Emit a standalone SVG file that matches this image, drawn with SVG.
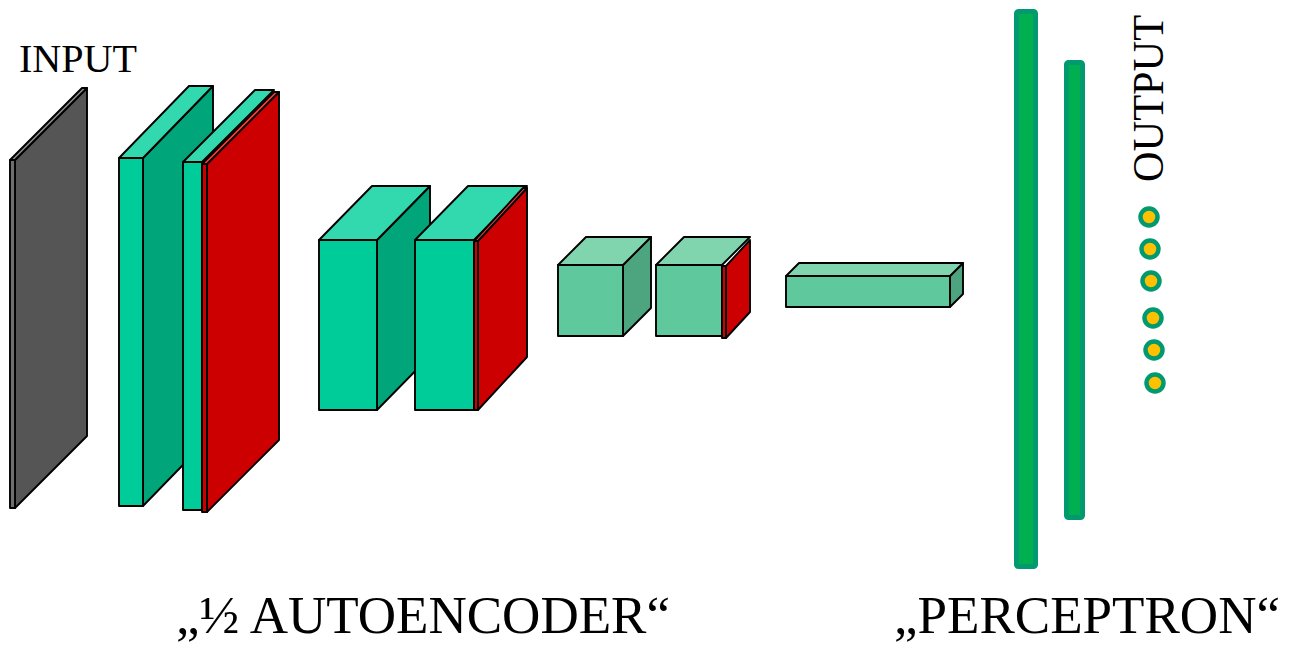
<svg xmlns="http://www.w3.org/2000/svg" width="1289" height="652" viewBox="0 0 1289 652">
  <style>
    .e { stroke: #000; stroke-width: 1.9; stroke-linejoin: round; }
    .gray-f { fill: #6e6e6e; }
    .gray-t { fill: #8a8a8a; }
    .gray-s { fill: #555555; }
    .g-f { fill: #00CC99; }
    .g-t { fill: #33D9AE; }
    .g-s { fill: #00A57A; }
    .r-f { fill: #CC0000; }
    .r-t { fill: #FF3B3B; }
    .r-s { fill: #CC0000; }
    .c-f { fill: #5FC89C; }
    .c-t { fill: #80D5AF; }
    .c-s { fill: #4CA57E; }
    .bar { fill: #00B050; stroke: #009970; stroke-width: 5; }
    .out { fill: #FFC000; stroke: #009970; stroke-width: 4.5; }
    .lbl { font-family: "Liberation Serif", "Times New Roman", serif; fill: #000; }
  </style>

  <text class="lbl" x="19" y="72" font-size="40" textLength="118" lengthAdjust="spacingAndGlyphs">INPUT</text>

  <!-- input slab -->
  <g id="input">
    <polygon class="e gray-s" points="15,160 87,88 87,436 15,508"/>
    <polygon class="e gray-t" points="10,160 15,160 87,88 82,88"/>
    <rect class="e gray-f" x="10" y="160" width="5" height="348"/>
  </g>

  <!-- conv layer 1 -->
  <g id="conv1">
    <polygon class="e g-s" points="143,158 213,86 213,434 143,506"/>
    <polygon class="e g-t" points="119,158 143,158 213,86 189,86"/>
    <rect class="e g-f" x="119" y="158" width="24" height="348"/>
  </g>

  <!-- conv layer 2 with pooling -->
  <g id="conv2">
    <polygon class="e g-t" points="183,162 202,162 274,90 255,90"/>
    <rect class="e g-f" x="183" y="162" width="19" height="348"/>
    <polygon class="e r-s" points="207,164 279,92 279,440 207,512"/>
    <polygon class="e r-t" points="202,164 207,164 279,92 274,92"/>
    <rect class="e r-f" x="202" y="164" width="5" height="348"/>
  </g>

  <!-- conv layer 3 -->
  <g id="conv3">
    <polygon class="e g-s" points="377,240 430,186 430,356 377,410"/>
    <polygon class="e g-t" points="319,240 377,240 430,186 372,186"/>
    <rect class="e g-f" x="319" y="240" width="58" height="170"/>
  </g>

  <!-- conv layer 4 with pooling -->
  <g id="conv4">
    <polygon class="e g-t" points="415,240 474,240 527,186 468,186"/>
    <rect class="e g-f" x="415" y="240" width="59" height="170"/>
    <polygon class="e r-s" points="478,241 527,188 527,357 478,410"/>
    <polygon class="e r-t" points="474,241 478,241 527,188 523,188"/>
    <rect class="e r-f" x="474" y="241" width="4" height="169"/>
  </g>

  <!-- conv layer 5 -->
  <g id="conv5">
    <polygon class="e c-s" points="623,265 651,237 651,308 623,336"/>
    <polygon class="e c-t" points="558,265 623,265 651,237 586,237"/>
    <rect class="e c-f" x="558" y="265" width="65" height="71"/>
  </g>

  <!-- conv layer 6 with pooling -->
  <g id="conv6">
    <polygon class="e c-t" points="656,265 722,265 750,237 684,237"/>
    <rect class="e c-f" x="656" y="265" width="66" height="71"/>
    <polygon class="e r-s" points="726,266 750,240 750,312 726,338"/>
    <rect class="e r-f" x="722" y="266" width="4" height="72"/>
  </g>

  <!-- flattened code -->
  <g id="flatten">
    <polygon class="e c-s" points="950,276 963,263 963,294 950,307"/>
    <polygon class="e c-t" points="786,276 950,276 963,263 799,263"/>
    <rect class="e c-f" x="786" y="276" width="164" height="31"/>
  </g>

  <!-- perceptron layers -->
  <g id="dense1">
    <rect class="bar" x="1016.5" y="11.5" width="19" height="555" rx="2"/>
  </g>
  <g id="dense2">
    <rect class="bar" x="1066.5" y="62.5" width="16" height="455" rx="2"/>
  </g>

  <!-- output units -->
  <g id="outputs">
    <circle class="out" cx="1149" cy="217" r="8.5"/>
    <circle class="out" cx="1150" cy="249" r="8.5"/>
    <circle class="out" cx="1151" cy="281" r="8.5"/>
    <circle class="out" cx="1153" cy="318" r="8.5"/>
    <circle class="out" cx="1154" cy="350" r="8.5"/>
    <circle class="out" cx="1155" cy="383" r="8.5"/>
  </g>

  <text class="lbl" transform="translate(1163,182) rotate(-90)" font-size="45" textLength="167" lengthAdjust="spacingAndGlyphs">OUTPUT</text>

  <text class="lbl" x="176" y="633" font-size="53" textLength="494" lengthAdjust="spacingAndGlyphs">„½ AUTOENCODER“</text>
  <text class="lbl" x="894" y="633" font-size="53" textLength="386" lengthAdjust="spacingAndGlyphs">„PERCEPTRON“</text>
</svg>
